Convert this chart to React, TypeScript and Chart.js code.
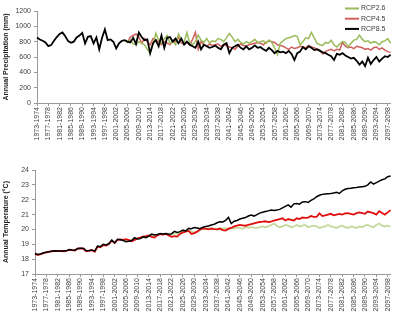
import React, { useEffect, useRef } from 'react';
import { Chart, registerables } from 'chart.js';

Chart.register(...registerables);

// Categories: hydrological years 1973-1974 ... 2098-2099
const startYear = 1973;
const endYear = 2098;
const categories: string[] = [];
for (let y = startYear; y <= endYear; y++) categories.push(`${y}-${y + 1}`);

// ---------- Precipitation (mm) ----------
// historical 1973..2004 (observed, black line)
const precipHist = [
  855, 829, 812, 790, 742, 755, 812, 860, 900, 920,
  870, 807, 786, 800, 855, 880, 915, 777, 863, 872,
  777, 855, 700, 850, 960, 820, 829, 799, 712, 777,
  812, 820,
];
// projections 2005..2098
const precipRCP26 = [
  790, 820, 770, 760, 800, 780, 760, 700, 650, 760,
  910, 820, 780, 840, 880, 780, 810, 760, 900, 830,
  790, 920, 780, 760, 800, 885, 820, 790, 840, 780,
  810, 800, 840, 830, 800, 850, 905, 860, 800, 830,
  790, 770, 800, 780, 800, 830, 790, 800, 810, 780,
  820, 790, 720, 630, 780, 810, 840, 850, 860, 880,
  870, 760, 800, 850, 840, 920, 850, 780, 760, 750,
  790, 780, 820, 760, 730, 770, 800, 790, 730, 780,
  820, 830, 885, 830, 800, 810, 780, 800, 790, 760,
  800, 810, 840, 780,
];
const precipRCP45 = [
  790, 860, 880, 900, 860, 780, 840, 800, 760, 840,
  820, 800, 760, 800, 780, 760, 820, 800, 860, 780,
  770, 790, 760, 830, 920, 700, 800, 760, 740, 770,
  750, 760, 770, 740, 760, 750, 730, 720, 700, 740,
  770, 750, 740, 760, 770, 780, 790, 780, 760, 790,
  810, 800, 790, 760, 750, 740, 720, 700, 730, 710,
  720, 740, 730, 720, 750, 730, 720, 700, 690, 640,
  670, 690, 700, 680, 700, 690, 790, 740, 720, 730,
  710, 740, 730, 720, 700, 710, 690, 720, 730, 700,
  720, 690, 670, 660,
];
const precipRCP85 = [
  800, 790, 850, 770, 920, 860, 820, 830, 650, 780,
  820, 740, 880, 720, 850, 860, 800, 840, 780, 840,
  760, 800, 760, 740, 720, 800, 700, 760, 740, 720,
  730, 750, 720, 700, 760, 780, 650, 720, 740, 760,
  720, 700, 740, 700, 720, 750, 720, 730, 700, 680,
  720, 690, 650, 680, 660, 670, 650, 680, 640, 560,
  650, 670, 730, 700, 740, 720, 690, 700, 680, 660,
  650, 630, 610, 560, 640, 630, 650, 620, 600, 580,
  590, 550, 500, 540, 480, 590, 510, 560, 600, 540,
  580, 610, 600, 630,
];

// ---------- Temperature (°C) ----------
const tempHistA = [
  18.38, 18.31, 18.35, 18.43, 18.47, 18.50, 18.55, 18.56, 18.54, 18.55,
  18.54, 18.56, 18.65, 18.62, 18.60, 18.72, 18.74, 18.73, 18.56, 18.58,
  18.62, 18.54, 18.88, 18.84, 19.00, 18.96, 19.05, 19.28, 19.10, 19.33,
  19.30, 19.25,
];
const tempHistB = [
  18.35, 18.28, 18.33, 18.40, 18.45, 18.50, 18.52, 18.55, 18.54, 18.55,
  18.53, 18.55, 18.62, 18.60, 18.57, 18.70, 18.72, 18.70, 18.52, 18.55,
  18.60, 18.50, 18.85, 18.80, 18.95, 18.92, 19.02, 19.25, 19.08, 19.30,
  19.33, 19.30,
];
const tempRCP26 = [
  19.30, 19.25, 19.30, 19.40, 19.35, 19.40, 19.50, 19.45, 19.55, 19.60,
  19.55, 19.65, 19.70, 19.65, 19.72, 19.70, 19.65, 19.75, 19.70, 19.80,
  19.85, 19.90, 19.95, 19.85, 19.80, 19.85, 19.95, 20.05, 20.00, 20.07,
  20.10, 20.05, 20.00, 20.10, 20.05, 20.08, 20.00, 20.10, 20.05, 20.12,
  20.10, 20.05, 20.15, 20.10, 20.15, 20.12, 20.10, 20.15, 20.20, 20.15,
  20.20, 20.30, 20.40, 20.25, 20.15, 20.20, 20.30, 20.25, 20.15, 20.20,
  20.30, 20.20, 20.25, 20.30, 20.15, 20.20, 20.25, 20.20, 20.10, 20.15,
  20.20, 20.30, 20.20, 20.15, 20.10, 20.20, 20.25, 20.15, 20.10, 20.20,
  20.15, 20.10, 20.20, 20.15, 20.25, 20.30, 20.20, 20.15, 20.30, 20.40,
  20.25, 20.20, 20.25, 20.18,
];
const tempRCP45 = [
  19.35, 19.28, 19.20, 19.30, 19.40, 19.45, 19.52, 19.55, 19.60, 19.50,
  19.45, 19.60, 19.68, 19.65, 19.70, 19.60, 19.50, 19.55, 19.52, 19.70,
  19.80, 19.85, 19.90, 19.70, 19.75, 19.85, 20.00, 20.07, 20.05, 20.00,
  20.05, 20.02, 20.00, 20.05, 19.95, 19.92, 20.05, 20.10, 20.20, 20.25,
  20.30, 20.28, 20.25, 20.30, 20.35, 20.40, 20.45, 20.50, 20.52, 20.55,
  20.50, 20.52, 20.60, 20.65, 20.70, 20.75, 20.60, 20.70, 20.65, 20.60,
  20.75, 20.70, 20.80, 20.78, 20.80, 20.90, 20.85, 20.85, 21.08, 20.90,
  20.95, 21.00, 21.05, 20.95, 21.00, 21.05, 21.00, 21.08, 21.10, 21.05,
  21.00, 21.10, 21.15, 21.10, 21.05, 21.20, 21.15, 21.10, 21.00, 21.23,
  21.10, 21.00, 21.15, 21.30,
];
const tempRCP85 = [
  19.17, 19.20, 19.25, 19.44, 19.35, 19.38, 19.50, 19.45, 19.55, 19.69,
  19.62, 19.66, 19.73, 19.70, 19.72, 19.68, 19.70, 19.87, 19.80, 19.85,
  19.95, 19.90, 20.07, 20.05, 20.13, 20.10, 20.05, 20.15, 20.20, 20.23,
  20.30, 20.35, 20.45, 20.52, 20.50, 20.60, 20.81, 20.40, 20.55, 20.60,
  20.70, 20.75, 20.80, 20.90, 20.97, 20.90, 21.00, 21.10, 21.15, 21.20,
  21.25, 21.30, 21.28, 21.30, 21.35, 21.45, 21.55, 21.65, 21.50, 21.72,
  21.75, 21.70, 21.85, 21.87, 21.82, 21.95, 22.05, 22.20, 22.30, 22.36,
  22.38, 22.40, 22.42, 22.45, 22.50, 22.42, 22.60, 22.70, 22.75, 22.77,
  22.80, 22.82, 22.85, 22.88, 22.90, 23.00, 23.20, 23.05, 23.15, 23.25,
  23.34, 23.40, 23.55, 23.60,
];

const seriesNames = ['RCP2.6', 'RCP4.5', 'RCP8.5'];

const FONT = '"Liberation Sans", Arial, sans-serif';
const AXIS = '#9a9a9a';
const TXT = '#404040';

const histGap = (hist: number[]) => [
  ...new Array(hist.length - 1).fill(null),
  hist[hist.length - 1],
];

const legendPlugin = (colors: string[]) => ({
  id: 'customLegend',
  afterDraw(chart: any) {
    const ctx = chart.ctx;
    ctx.save();
    seriesNames.forEach((name, i) => {
      const y = 8.5 + i * 10.2;
      ctx.strokeStyle = colors[i];
      ctx.lineWidth = 2;
      ctx.beginPath();
      ctx.moveTo(345, y);
      ctx.lineTo(359, y);
      ctx.stroke();
      ctx.fillStyle = TXT;
      ctx.font = `7px ${FONT}`;
      ctx.textBaseline = 'middle';
      ctx.textAlign = 'left';
      ctx.fillText(name, 361, y);
    });
    ctx.restore();
  },
});

function makeScales(yMin: number, yMax: number, step: number, title: string, xHeight: number, yWidth: number) {
  return {
    x: {
      type: 'category',
      offset: false,
      grid: {
        drawOnChartArea: false,
        drawTicks: true,
        tickLength: 3,
        color: (c: any) => (c.index % 4 === 0 ? AXIS : 'rgba(0,0,0,0)'),
      },
      border: { color: AXIS, width: 1 },
      ticks: {
        autoSkip: false,
        minRotation: 90,
        maxRotation: 90,
        padding: 1,
        color: TXT,
        font: { size: 7, family: FONT },
        callback: (_v: any, i: number) => (i % 4 === 0 ? categories[i] : ''),
      },
      afterFit: (s: any) => {
        s.height = xHeight;
      },
    },
    y: {
      min: yMin,
      max: yMax,
      grid: { drawOnChartArea: false, drawTicks: true, tickLength: 3, color: AXIS },
      border: { color: AXIS, width: 1 },
      ticks: {
        stepSize: step,
        padding: 3,
        color: TXT,
        font: { size: 7, family: FONT },
        callback: (v: any) => String(v),
      },
      title: {
        display: true,
        text: title,
        color: '#1a1a1a',
        padding: { top: 0, bottom: 0 },
        font: { size: 7, family: FONT, weight: 'bold' },
      },
      afterFit: (s: any) => {
        s.width = yWidth;
      },
    },
  };
}

export default function App() {
  const topRef = useRef<HTMLCanvasElement>(null);
  const botRef = useRef<HTMLCanvasElement>(null);

  useEffect(() => {
    const pGreen = '#9bbb59';
    const pRed = '#d0605c';
    const pBlack = '#000000';

    const top = new Chart(topRef.current as HTMLCanvasElement, {
      type: 'line',
      data: {
        labels: categories,
        datasets: [
          { label: seriesNames[2], data: [...precipHist, ...precipRCP85], borderColor: pBlack, borderWidth: 1.8, order: 0 },
          { label: seriesNames[0], data: [...histGap(precipHist), ...precipRCP26], borderColor: pGreen, borderWidth: 1.5, order: 1 },
          { label: seriesNames[1], data: [...histGap(precipHist), ...precipRCP45], borderColor: pRed, borderWidth: 1.5, order: 2 },
        ],
      },
      options: {
        responsive: false,
        animation: false,
        layout: { padding: { top: 11, right: 7, left: 2, bottom: 0 } },
        elements: { point: { radius: 0 }, line: { tension: 0 } },
        plugins: { legend: { display: false }, tooltip: { enabled: false } },
        scales: makeScales(0, 1200, 200, 'Annual Precipitation (mm)', 47, 35) as any,
      },
      plugins: [legendPlugin([pGreen, pRed, pBlack])],
    });

    const tGreen = '#c6d89c';
    const tRed = '#e01010';
    const tBlack = '#000000';

    const bot = new Chart(botRef.current as HTMLCanvasElement, {
      type: 'line',
      data: {
        labels: categories,
        datasets: [
          { label: seriesNames[2], data: [...tempHistA, ...tempRCP85], borderColor: tBlack, borderWidth: 1.5, order: 0 },
          { label: seriesNames[1], data: [...tempHistB, ...tempRCP45], borderColor: tRed, borderWidth: 1.8, order: 1 },
          { label: seriesNames[0], data: [...histGap(tempHistB), ...tempRCP26], borderColor: tGreen, borderWidth: 1.8, order: 2 },
        ],
      },
      options: {
        responsive: false,
        animation: false,
        layout: { padding: { top: 10, right: 7, left: 2, bottom: 0 } },
        elements: { point: { radius: 0 }, line: { tension: 0 } },
        plugins: { legend: { display: false }, tooltip: { enabled: false } },
        scales: makeScales(17, 24, 1, 'Annual Temperature (°C)', 43, 33) as any,
      },
    });

    return () => {
      top.destroy();
      bot.destroy();
    };
  }, []);

  return (
    <div style={{ position: 'absolute', left: 0, top: 0, width: 400, height: 317, background: '#fff' }}>
      <canvas ref={topRef} width={400} height={150} style={{ position: 'absolute', left: 0, top: 0, display: 'block' }} />
      <canvas ref={botRef} width={400} height={157} style={{ position: 'absolute', left: 0, top: 160, display: 'block' }} />
    </div>
  );
}
